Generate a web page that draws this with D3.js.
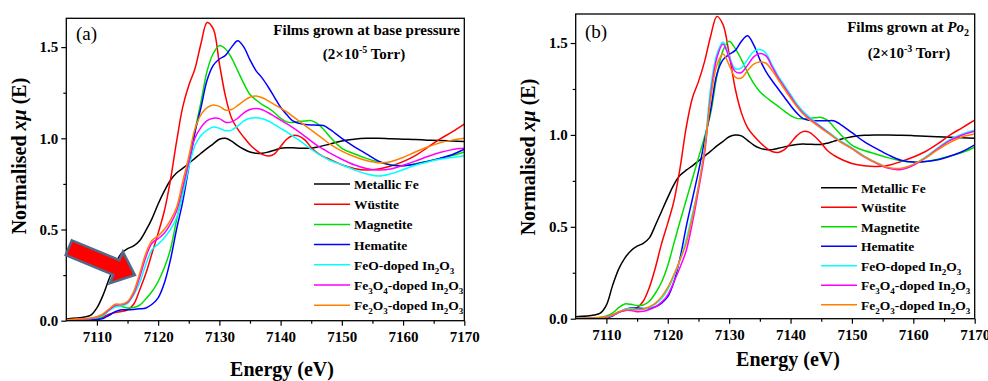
<!DOCTYPE html>
<html>
<head>
<meta charset="utf-8">
<script src="https://cdn.jsdelivr.net/npm/d3@7"></script>
<style>
  body { margin: 0; background: #fff; }
  svg, svg text { font-family: "Liberation Serif", "Times New Roman", Times, "DejaVu Serif", serif; }
</style>
</head>
<body>
<script>
// XANES Fe K-edge spectra, two panels

const energy = [7105, 7108, 7109, 7110, 7111, 7112, 7113, 7114, 7115, 7116, 7117, 7118, 7119, 7120,
  7121, 7122, 7123, 7124, 7125, 7126, 7127, 7128, 7129, 7130, 7131, 7132, 7133, 7134, 7135, 7136,
  7137, 7138, 7139, 7140, 7141, 7142, 7143, 7144, 7145, 7146, 7147, 7148, 7150, 7152, 7154, 7156,
  7158, 7160, 7162, 7164, 7166, 7168, 7170];

const seriesNames = ['Metallic Fe', 'Wüstite', 'Magnetite', 'Hematite',
  'FeO-doped In_2O_3', 'Fe_3O_4-doped In_2O_3', 'Fe_2O_3-doped In_2O_3'];
const seriesColors = ['#000000', '#ff0000', '#00dd00', '#0000ff', '#00ffff', '#ff00ff', '#ff8000'];

const xTicks = [7110, 7120, 7130, 7140, 7150, 7160, 7170];
const xMinor = [7115, 7125, 7135, 7145, 7155, 7165];
const yTicks = [0, 0.5, 1.0, 1.5];
const yMinor = [0.25, 0.75, 1.25];

// (a) films grown at base pressure
const metFeA = [0.01, 0.02, 0.03, 0.07, 0.14, 0.23, 0.31, 0.37, 0.395, 0.41, 0.44, 0.495, 0.56, 0.64,
  0.71, 0.77, 0.81, 0.835, 0.862, 0.89, 0.918, 0.945, 0.97, 0.995, 1.0, 0.985, 0.96, 0.94, 0.925, 0.918,
  0.918, 0.925, 0.935, 0.945, 0.948, 0.948, 0.946, 0.945, 0.946, 0.952, 0.96, 0.968, 0.985, 0.995, 1.0, 1.0,
  0.997, 0.995, 0.993, 0.99, 0.988, 0.985, 0.982];
const wusA = [0.0, 0.005, 0.008, 0.01, 0.02, 0.035, 0.045, 0.05, 0.06, 0.09, 0.17, 0.26, 0.37, 0.48,
  0.6, 0.77, 0.98, 1.17, 1.29, 1.38, 1.52, 1.635, 1.6, 1.41, 1.23, 1.11, 1.05, 1.005, 0.965, 0.935,
  0.912, 0.903, 0.915, 0.955, 0.995, 1.015, 1.012, 0.99, 0.95, 0.92, 0.9, 0.885, 0.855, 0.835, 0.826, 0.832,
  0.848, 0.872, 0.905, 0.95, 0.995, 1.035, 1.078];
const magA = [0.0, 0.005, 0.008, 0.012, 0.025, 0.06, 0.08, 0.078, 0.07, 0.072, 0.085, 0.12, 0.16, 0.215,
  0.29, 0.39, 0.55, 0.7, 0.87, 1.04, 1.2, 1.37, 1.465, 1.508, 1.49, 1.44, 1.37, 1.3, 1.24, 1.21,
  1.185, 1.165, 1.14, 1.11, 1.09, 1.087, 1.092, 1.095, 1.097, 1.08, 1.05, 1.01, 0.945, 0.915, 0.89, 0.87,
  0.855, 0.85, 0.86, 0.875, 0.89, 0.905, 0.925];
const hemA = [0.0, 0.002, 0.004, 0.006, 0.012, 0.03, 0.05, 0.06, 0.06, 0.062, 0.065, 0.07, 0.09, 0.125,
  0.205, 0.333, 0.5, 0.65, 0.84, 1.03, 1.17, 1.32, 1.4, 1.435, 1.455, 1.5, 1.535, 1.5, 1.43, 1.37,
  1.33, 1.28, 1.225, 1.17, 1.13, 1.095, 1.082, 1.076, 1.073, 1.072, 1.07, 1.05, 1.0, 0.955, 0.915, 0.875,
  0.853, 0.85, 0.858, 0.873, 0.89, 0.91, 0.94];
const feoA = [0.0, 0.01, 0.012, 0.018, 0.03, 0.055, 0.075, 0.08, 0.095, 0.14, 0.21, 0.31, 0.39, 0.42,
  0.455, 0.5, 0.565, 0.69, 0.84, 0.96, 1.015, 1.045, 1.062, 1.055, 1.042, 1.045, 1.068, 1.095, 1.11, 1.113,
  1.107, 1.095, 1.075, 1.055, 1.035, 1.012, 0.99, 0.965, 0.94, 0.918, 0.898, 0.88, 0.855, 0.828, 0.805, 0.793,
  0.805, 0.828, 0.852, 0.87, 0.885, 0.895, 0.905];
const fe3o4A = [0.0, 0.01, 0.012, 0.02, 0.035, 0.06, 0.085, 0.088, 0.1, 0.15, 0.24, 0.35, 0.425, 0.45,
  0.48, 0.53, 0.6, 0.73, 0.87, 1.0, 1.06, 1.097, 1.11, 1.108, 1.088, 1.09, 1.11, 1.14, 1.158, 1.164,
  1.157, 1.14, 1.12, 1.1, 1.08, 1.058, 1.035, 1.01, 0.985, 0.96, 0.94, 0.92, 0.885, 0.855, 0.835, 0.826,
  0.832, 0.852, 0.875, 0.9, 0.922, 0.938, 0.945];
const fe2o3A = [0.005, 0.012, 0.015, 0.022, 0.038, 0.065, 0.09, 0.09, 0.105, 0.16, 0.26, 0.37, 0.44, 0.465,
  0.5, 0.55, 0.62, 0.76, 0.9, 1.05, 1.13, 1.168, 1.183, 1.175, 1.155, 1.158, 1.18, 1.205, 1.225, 1.232,
  1.222, 1.205, 1.185, 1.165, 1.145, 1.12, 1.095, 1.07, 1.045, 1.02, 0.995, 0.97, 0.93, 0.9, 0.878, 0.866,
  0.872, 0.895, 0.925, 0.952, 0.975, 0.99, 1.0];

// (b) films grown at Po2
const metFeB = [0.01, 0.02, 0.03, 0.074, 0.18, 0.27, 0.33, 0.37, 0.395, 0.41, 0.44, 0.51, 0.585, 0.66,
  0.73, 0.78, 0.808, 0.832, 0.858, 0.885, 0.912, 0.94, 0.965, 0.99, 1.0, 0.995, 0.97, 0.945, 0.928, 0.92,
  0.92, 0.927, 0.935, 0.943, 0.948, 0.95, 0.949, 0.948, 0.948, 0.955, 0.965, 0.975, 0.99, 0.998, 1.0, 1.0,
  0.998, 0.996, 0.993, 0.99, 0.987, 0.984, 0.982];
const wusB = [0.0, 0.003, 0.005, 0.008, 0.02, 0.035, 0.045, 0.05, 0.06, 0.095, 0.17, 0.28, 0.41, 0.52,
  0.64, 0.82, 1.04, 1.2, 1.29, 1.4, 1.54, 1.645, 1.6, 1.44, 1.25, 1.12, 1.04, 0.995, 0.96, 0.93,
  0.91, 0.905, 0.92, 0.955, 0.995, 1.018, 1.015, 0.99, 0.955, 0.915, 0.89, 0.872, 0.845, 0.832, 0.828, 0.835,
  0.855, 0.88, 0.91, 0.952, 1.0, 1.04, 1.081];
const magB = [0.0, 0.005, 0.008, 0.015, 0.03, 0.06, 0.08, 0.078, 0.072, 0.075, 0.095, 0.14, 0.2, 0.29,
  0.41, 0.53, 0.645, 0.76, 0.875, 0.99, 1.12, 1.32, 1.46, 1.51, 1.47, 1.41, 1.34, 1.28, 1.235, 1.205,
  1.18, 1.155, 1.13, 1.105, 1.09, 1.088, 1.091, 1.093, 1.095, 1.08, 1.045, 1.008, 0.945, 0.915, 0.895, 0.875,
  0.86, 0.852, 0.855, 0.868, 0.885, 0.905, 0.933];
const hemB = [0.0, 0.002, 0.004, 0.006, 0.015, 0.035, 0.05, 0.058, 0.058, 0.056, 0.056, 0.065, 0.085, 0.12,
  0.2, 0.33, 0.5, 0.65, 0.8, 0.97, 1.14, 1.33, 1.41, 1.438, 1.46, 1.51, 1.54, 1.49, 1.41, 1.345,
  1.295, 1.25, 1.205, 1.16, 1.12, 1.09, 1.08, 1.077, 1.077, 1.077, 1.077, 1.06, 1.012, 0.963, 0.925, 0.89,
  0.862, 0.852, 0.855, 0.865, 0.885, 0.91, 0.946];
const feoB = [0.0, 0.003, 0.005, 0.008, 0.018, 0.035, 0.05, 0.055, 0.052, 0.052, 0.06, 0.08, 0.11, 0.16,
  0.23, 0.32, 0.43, 0.57, 0.72, 0.93, 1.26, 1.44, 1.505, 1.43, 1.36, 1.365, 1.41, 1.455, 1.465, 1.445,
  1.38, 1.32, 1.27, 1.22, 1.17, 1.13, 1.1, 1.07, 1.045, 1.02, 0.995, 0.97, 0.93, 0.885, 0.85, 0.822,
  0.818, 0.84, 0.88, 0.93, 0.975, 1.005, 1.027];
const fe3o4B = [0.0, 0.003, 0.005, 0.008, 0.018, 0.035, 0.045, 0.045, 0.038, 0.04, 0.05, 0.065, 0.09, 0.13,
  0.2, 0.28, 0.37, 0.52, 0.7, 0.9, 1.22, 1.42, 1.495, 1.42, 1.345, 1.34, 1.38, 1.425, 1.443, 1.43,
  1.37, 1.31, 1.26, 1.21, 1.16, 1.12, 1.09, 1.065, 1.04, 1.015, 0.99, 0.965, 0.925, 0.88, 0.845, 0.818,
  0.812, 0.835, 0.875, 0.925, 0.97, 1.0, 1.02];
const fe2o3B = [0.0, 0.004, 0.006, 0.01, 0.02, 0.037, 0.048, 0.05, 0.048, 0.052, 0.065, 0.085, 0.12, 0.17,
  0.24, 0.32, 0.41, 0.55, 0.72, 0.92, 1.2, 1.38, 1.44, 1.38, 1.315, 1.31, 1.35, 1.385, 1.397, 1.39,
  1.35, 1.3, 1.25, 1.2, 1.155, 1.115, 1.085, 1.06, 1.035, 1.012, 0.99, 0.965, 0.925, 0.882, 0.848, 0.822,
  0.818, 0.84, 0.875, 0.92, 0.96, 0.99, 1.005];

const width = 988;
const height = 381;
const serif = '"Liberation Serif", "Times New Roman", Times, "DejaVu Serif", serif';

const svg = d3.select('body').append('svg')
  .attr('width', width)
  .attr('height', height)
  .attr('font-family', serif);

const panels = [
  { id: 'a', left: 66.3, right: 464.3, top: 18.3, bottom: 320.7,
    series: [metFeA, wusA, magA, hemA, feoA, fe3o4A, fe2o3A],
    label: '(a)', labelX: 76, labelY: 40,
    titleX: 460, titleY: 35, subX: 364, subY: 59, exp: '-5',
    legX: 314, legY: 184, legStep: 20.2,
    yTitleX: 26, yTitleY: 156, xTitleX: 282, xTitleY: 376, arrow: true },
  { id: 'b', left: 575.7, right: 974.7, top: 14, bottom: 318.7,
    series: [metFeB, wusB, magB, hemB, feoB, fe3o4B, fe2o3B],
    label: '(b)', labelX: 585, labelY: 38,
    titleX: 969, titleY: 32, subX: 909, subY: 58, exp: '-3',
    legX: 821, legY: 187.7, legStep: 19.5,
    yTitleX: 535, yTitleY: 157, xTitleX: 788, xTitleY: 366, arrow: false }
];

// text with _x subscripts; the shift back is put on the next piece of text
function richText(sel, str, subSize) {
  const parts = str.split(/(_\d)/).filter(s => s.length);
  let back = 0;
  parts.forEach(s => {
    if (s[0] === '_') {
      sel.append('tspan').attr('font-size', subSize).attr('dy', 4 - back).text(s.slice(1));
      back = 4;
    } else {
      sel.append('tspan').attr('dy', -back).text(s);
      back = 0;
    }
  });
}

panels.forEach(p => {
  const x = d3.scaleLinear().domain([7105, 7170]).range([p.left, p.right]);
  const y = d3.scaleLinear().domain([0, 1.658]).range([p.bottom, p.top]);

  svg.append('clipPath').attr('id', 'clip-' + p.id)
    .append('rect')
    .attr('x', p.left).attr('y', p.top)
    .attr('width', p.right - p.left).attr('height', p.bottom - p.top);

  const line = d3.line()
    .x((d, i) => x(energy[i]))
    .y(d => y(d))
    .curve(d3.curveCatmullRom.alpha(0.5));

  svg.append('g')
    .attr('clip-path', `url(#clip-${p.id})`)
    .selectAll('path')
    .data(p.series)
    .join('path')
    .attr('d', d => line(d))
    .attr('fill', 'none')
    .attr('stroke', (d, i) => seriesColors[i])
    .attr('stroke-width', 1.5);

  // axes
  const xAxis = svg.append('g')
    .attr('transform', `translate(0,${p.bottom})`)
    .call(d3.axisBottom(x).tickValues(xTicks).tickSize(5).tickPadding(6).tickFormat(d3.format('d')));
  svg.append('g')
    .attr('transform', `translate(0,${p.bottom})`)
    .call(d3.axisBottom(x).tickValues(xMinor).tickSize(3).tickFormat(''))
    .select('.domain').remove();
  const yAxis = svg.append('g')
    .attr('transform', `translate(${p.left},0)`)
    .call(d3.axisLeft(y).tickValues(yTicks).tickSize(5).tickPadding(3).tickFormat(d3.format('.1f')));
  svg.append('g')
    .attr('transform', `translate(${p.left},0)`)
    .call(d3.axisLeft(y).tickValues(yMinor).tickSize(3).tickFormat(''))
    .select('.domain').remove();

  [xAxis, yAxis].forEach(a => {
    a.attr('font-family', serif);
    a.select('.domain').remove();
    a.selectAll('text')
      .attr('font-weight', 'bold')
      .attr('font-size', 15)
      .attr('fill', '#000');
  });
  svg.selectAll('.tick line').attr('stroke', '#000').attr('stroke-width', 1.2);

  // frame
  svg.append('rect')
    .attr('x', p.left).attr('y', p.top)
    .attr('width', p.right - p.left).attr('height', p.bottom - p.top)
    .attr('fill', 'none')
    .attr('stroke', '#000')
    .attr('stroke-width', 1.3);

  // axis titles
  svg.append('text')
    .attr('x', p.xTitleX).attr('y', p.xTitleY)
    .attr('text-anchor', 'middle')
    .attr('font-weight', 'bold')
    .attr('font-size', 20)
    .text('Energy (eV)');

  const yt = svg.append('text')
    .attr('transform', `translate(${p.yTitleX},${p.yTitleY}) rotate(-90)`)
    .attr('text-anchor', 'middle')
    .attr('font-weight', 'bold')
    .attr('font-size', 20);
  yt.append('tspan').text('Normalised ');
  yt.append('tspan').attr('font-style', 'italic').text('xμ');
  yt.append('tspan').text(' (E)');

  // panel letter
  svg.append('text')
    .attr('x', p.labelX).attr('y', p.labelY)
    .attr('font-size', 19)
    .text(p.label);

  // condition title
  const t1 = svg.append('text')
    .attr('x', p.titleX).attr('y', p.titleY)
    .attr('text-anchor', 'end')
    .attr('font-weight', 'bold')
    .attr('font-size', 15);
  if (p.id === 'a') {
    t1.text('Films grown at base pressure');
  } else {
    t1.append('tspan').text('Films grown at ');
    t1.append('tspan').attr('font-style', 'italic').text('Po');
    t1.append('tspan').attr('font-size', 10).attr('dy', 4).text('2');
  }
  const t2 = svg.append('text')
    .attr('x', p.subX).attr('y', p.subY)
    .attr('text-anchor', 'middle')
    .attr('font-weight', 'bold')
    .attr('font-size', 15);
  t2.append('tspan').text('(2×10');
  t2.append('tspan').attr('font-size', 10).attr('dy', -6).text(p.exp);
  t2.append('tspan').attr('dy', 6).text(' Torr)');

  // legend
  const leg = svg.append('g');
  seriesNames.forEach((name, i) => {
    const ly = p.legY + i * p.legStep;
    leg.append('line')
      .attr('x1', p.legX).attr('x2', p.legX + 36)
      .attr('y1', ly).attr('y2', ly)
      .attr('stroke', seriesColors[i])
      .attr('stroke-width', 1.5);
    const lt = leg.append('text')
      .attr('x', p.legX + 40).attr('y', ly + 5)
      .attr('font-weight', 'bold')
      .attr('font-size', 13.5);
    richText(lt, name, 9);
  });

  // red block arrow pointing at the pre-edge feature
  if (p.arrow) {
    const x0 = x(7105.4), y0 = y(0.40);
    const x1 = x(7116.2), y1 = y(0.25);
    const len = Math.hypot(x1 - x0, y1 - y0);
    const ang = Math.atan2(y1 - y0, x1 - x0) * 180 / Math.PI;
    const hw = 8, headW = 17, headL = 20;
    const pts = [[0, -hw], [len - headL, -hw], [len - headL, -headW], [len, 0],
      [len - headL, headW], [len - headL, hw], [0, hw]];
    svg.append('polygon')
      .attr('transform', `translate(${x0},${y0}) rotate(${ang})`)
      .attr('points', pts.map(d => d.join(',')).join(' '))
      .attr('fill', '#ff0000')
      .attr('stroke', '#4f6b8c')
      .attr('stroke-width', 2.5)
      .attr('stroke-linejoin', 'miter');
  }
});
</script>
</body>
</html>
